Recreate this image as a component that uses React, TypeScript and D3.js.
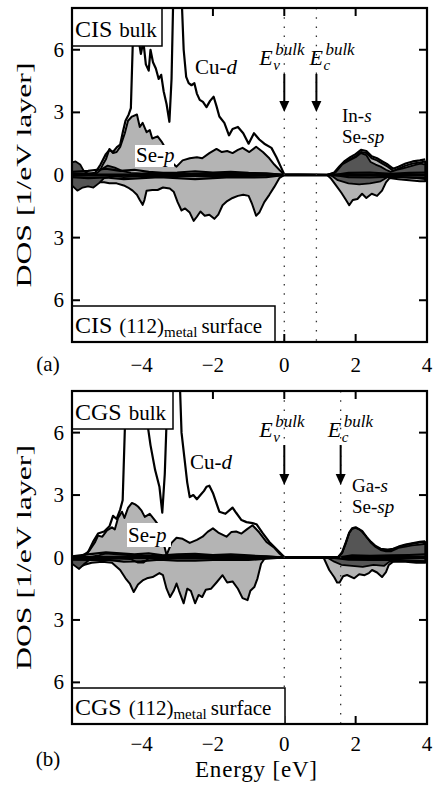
import React from "react";
import * as d3 from "d3";

type Pt = [number, number];

const xTicks = [-4, -2, 0, 2, 4];
const yTicks = [-6, -3, 0, 3, 6];
const xDomain: Pt = [-5.95, 4];
const yDomain: Pt = [-8, 8];

// ---------- Panel (a): CIS ----------
const cisCuD: Pt[] = [[-5.95,0.05],[-5.5,0.05],[-5.3,0.1],[-5.15,0.5],[-5.0,1.0],[-4.9,1.2],[-4.8,1.1],[-4.68,1.35],[-4.6,1.45],[-4.52,2.1],[-4.45,2.6],[-4.36,2.9],[-4.3,3.2],[-4.25,6.1],[-4.2,7.6],[-4.12,6.9],[-4.02,5.8],[-3.95,6.4],[-3.88,5.3],[-3.8,5.0],[-3.75,6.0],[-3.68,5.4],[-3.6,5.1],[-3.52,4.6],[-3.45,4.8],[-3.38,4.0],[-3.3,3.4],[-3.22,2.55],[-3.16,4.6],[-3.1,9.5],[-2.9,9.5],[-2.82,6.0],[-2.75,4.7],[-2.68,4.4],[-2.6,4.3],[-2.52,4.4],[-2.45,3.9],[-2.37,3.6],[-2.28,3.5],[-2.18,3.25],[-2.08,3.55],[-1.98,3.75],[-1.9,3.3],[-1.82,2.8],[-1.68,2.5],[-1.55,1.9],[-1.45,2.2],[-1.3,2.3],[-1.15,2.0],[-1.0,1.5],[-0.85,2.0],[-0.7,1.7],[-0.56,1.5],[-0.36,1.3],[-0.22,0.85],[-0.08,0.33],[0,0.03],[1.2,0],[1.4,0.12],[1.55,0.42],[1.7,0.68],[1.85,0.85],[2.0,1.0],[2.15,1.2],[2.3,1.15],[2.45,0.9],[2.6,0.8],[2.75,0.65],[2.9,0.5],[3.05,0.3],[3.2,0.4],[3.4,0.55],[3.6,0.65],[3.8,0.7],[3.95,0.75]];
const cisSeP: Pt[] = [[-5.95,0.15],[-5.6,0.1],[-5.3,0.05],[-5.2,0.1],[-5.1,0.45],[-5.0,0.75],[-4.9,1.25],[-4.8,1.05],[-4.7,1.1],[-4.6,1.35],[-4.47,2.0],[-4.38,2.6],[-4.27,2.8],[-4.13,2.9],[-4.05,2.3],[-3.97,2.5],[-3.86,2.05],[-3.77,2.15],[-3.7,1.75],[-3.55,1.85],[-3.44,1.6],[-3.3,1.2],[-3.15,0.6],[-3.02,0.4],[-2.85,0.7],[-2.65,0.8],[-2.45,0.85],[-2.3,0.8],[-2.1,1.05],[-1.9,1.25],[-1.75,1.1],[-1.6,1.15],[-1.45,1.05],[-1.3,1.2],[-1.17,1.3],[-0.98,1.1],[-0.79,1.35],[-0.6,1.1],[-0.42,0.8],[-0.28,0.5],[-0.14,0.25],[0,0.02],[1.2,0],[1.4,0.1],[1.55,0.35],[1.7,0.6],[1.85,0.75],[2.0,0.9],[2.15,1.1],[2.3,1.05],[2.45,0.8],[2.6,0.7],[2.75,0.55],[2.9,0.4],[3.05,0.2],[3.2,0.3],[3.4,0.45],[3.6,0.55],[3.8,0.6],[3.95,0.65]];
const cisInS: Pt[] = [[-5.95,0.6],[-5.85,0.65],[-5.72,0.5],[-5.62,0.2],[-5.5,0.05],[-5.3,0.02],[-5.15,0.25],[-4.95,0.45],[-4.75,0.35],[-4.55,0.2],[-4.3,0.1],[-4.0,0.08],[-3.5,0.1],[-3.0,0.05],[-2.0,0.1],[-1.0,0.08],[-0.3,0.05],[0,0],[1.3,0],[1.45,0.15],[1.62,0.5],[1.82,0.7],[2.0,0.85],[2.15,1.05],[2.3,0.95],[2.42,0.62],[2.56,0.5],[2.7,0.4],[2.85,0.25],[2.98,0.15],[3.15,0.25],[3.3,0.3],[3.5,0.4],[3.7,0.5],[3.83,0.55],[3.95,0.5]];
const cisSurfSeP: Pt[] = [[-5.95,0.3],[-5.5,0.3],[-5.2,0.35],[-5.05,0.35],[-4.9,0.4],[-4.7,0.4],[-4.5,0.5],[-4.38,0.6],[-4.25,0.75],[-4.13,0.95],[-4.05,1.2],[-3.97,1.43],[-3.92,1.2],[-3.86,0.75],[-3.7,0.72],[-3.55,0.72],[-3.4,0.6],[-3.21,0.65],[-3.1,0.8],[-2.99,1.3],[-2.88,1.7],[-2.78,1.6],[-2.65,1.8],[-2.54,2.2],[-2.45,2.0],[-2.35,1.75],[-2.23,1.95],[-2.1,1.9],[-1.96,2.1],[-1.85,1.9],[-1.73,1.45],[-1.6,1.25],[-1.45,1.1],[-1.3,1.0],[-1.15,0.95],[-1.0,1.0],[-0.9,1.4],[-0.79,1.95],[-0.7,1.8],[-0.56,1.3],[-0.42,0.95],[-0.28,0.57],[-0.14,0.15],[0,0],[1.2,0],[1.3,0.15],[1.45,0.5],[1.6,0.85],[1.73,1.2],[1.82,1.45],[1.92,1.2],[2.05,1.15],[2.18,0.9],[2.3,1.1],[2.45,0.9],[2.6,1.0],[2.74,0.75],[2.85,0.35],[2.95,0.15],[3.2,0.2],[3.5,0.25],[3.8,0.3],[3.95,0.3]];
const cisSurfDark: Pt[] = [[-5.95,0.5],[-5.8,0.75],[-5.65,0.6],[-5.5,0.55],[-5.35,0.6],[-5.2,0.4],[-5.05,0.15],[-4.8,0.05],[-4.5,0.1],[-4.0,0.05],[-3.0,0.05],[-2.0,0.08],[-1.0,0.05],[0,0],[1.3,0],[1.5,0.25],[1.8,0.4],[2.1,0.45],[2.4,0.4],[2.7,0.3],[2.9,0.1],[3.3,0.1],[3.7,0.15],[3.95,0.2]];
const cisNearUp: Pt[] = [[-5.95,0.15],[-5.5,0.2],[-5.0,0.3],[-4.6,0.2],[-4.2,0.25],[-3.8,0.15],[-3.4,0.1],[-3.0,0.12],[-2.5,0.18],[-2.0,0.12],[-1.5,0.15],[-1.0,0.1],[-0.5,0.08],[0,0],[1.4,0],[1.8,0.1],[2.4,0.12],[3.0,0.05],[3.5,0.1],[3.95,0.12]];
const cisNearDown: Pt[] = [[-5.95,0.1],[-5.5,0.15],[-5.0,0.12],[-4.5,0.2],[-4.0,0.15],[-3.5,0.1],[-3.0,0.15],[-2.5,0.2],[-2.0,0.15],[-1.5,0.1],[-1.0,0.12],[-0.5,0.1],[0,0],[1.4,0],[1.8,0.1],[2.4,0.12],[3.0,0.08],[3.5,0.12],[3.95,0.15]];

// ---------- Panel (b): CGS ----------
const cgsCuD: Pt[] = [[-5.95,0.02],[-5.7,0.05],[-5.5,0.25],[-5.36,0.75],[-5.22,1.15],[-5.05,1.25],[-4.9,1.5],[-4.8,2.0],[-4.7,1.85],[-4.6,2.3],[-4.53,2.75],[-4.47,6.1],[-4.4,8.6],[-4.2,9.5],[-3.95,7.6],[-3.85,6.6],[-3.75,5.4],[-3.62,4.2],[-3.5,3.4],[-3.42,2.15],[-3.35,4.0],[-3.3,6.5],[-3.22,9.5],[-2.95,9.5],[-2.88,6.0],[-2.8,4.8],[-2.72,3.6],[-2.65,2.9],[-2.55,3.0],[-2.45,2.8],[-2.35,3.0],[-2.25,3.2],[-2.18,3.4],[-2.1,3.45],[-2.0,3.1],[-1.9,2.6],[-1.82,2.2],[-1.65,2.1],[-1.45,2.4],[-1.35,2.15],[-1.2,1.8],[-1.06,1.7],[-0.89,1.65],[-0.78,1.6],[-0.61,1.18],[-0.42,0.75],[-0.28,0.5],[-0.14,0.26],[0,0.02],[1.5,0],[1.62,0.25],[1.73,0.75],[1.82,1.2],[1.9,1.4],[2.0,1.45],[2.18,1.28],[2.3,1.0],[2.43,0.75],[2.56,0.55],[2.7,0.42],[2.9,0.38],[3.05,0.42],[3.2,0.52],[3.4,0.62],[3.58,0.68],[3.8,0.75],[3.95,0.78]];
const cgsSeP: Pt[] = [[-5.95,0],[-5.6,0.1],[-5.45,0.36],[-5.3,0.75],[-5.22,1.05],[-5.1,1.0],[-4.97,1.3],[-4.83,1.45],[-4.75,1.35],[-4.66,1.9],[-4.55,2.2],[-4.48,1.9],[-4.38,2.38],[-4.27,2.62],[-4.18,2.55],[-4.1,2.45],[-4.0,2.25],[-3.91,1.95],[-3.77,2.1],[-3.63,1.8],[-3.5,1.5],[-3.4,0.8],[-3.3,0.12],[-3.16,0.7],[-3.02,0.95],[-2.85,0.9],[-2.65,0.7],[-2.45,0.85],[-2.29,1.0],[-2.15,1.23],[-2.0,1.4],[-1.85,1.2],[-1.62,1.0],[-1.48,1.23],[-1.35,1.25],[-1.2,1.15],[-1.05,1.35],[-0.89,1.55],[-0.7,1.2],[-0.5,0.75],[-0.3,0.5],[-0.14,0.2],[0,0.02],[1.5,0],[1.62,0.2],[1.73,0.7],[1.82,1.15],[1.9,1.35],[2.0,1.4],[2.18,1.23],[2.3,0.95],[2.43,0.7],[2.56,0.5],[2.7,0.38],[2.9,0.33],[3.05,0.38],[3.2,0.5],[3.4,0.6],[3.58,0.66],[3.8,0.72],[3.95,0.75]];
const cgsGaS: Pt[] = [[-5.95,0],[-5.5,0.02],[-5.2,0.1],[-5.0,0.2],[-4.7,0.15],[-4.3,0.1],[-3.5,0.08],[-2.5,0.1],[-1.5,0.08],[-0.5,0.05],[0,0],[1.5,0],[1.62,0.2],[1.73,0.7],[1.82,1.18],[1.9,1.37],[2.0,1.42],[2.1,1.35],[2.18,1.23],[2.3,1.0],[2.43,0.7],[2.56,0.5],[2.7,0.36],[2.85,0.3],[3.0,0.3],[3.2,0.46],[3.4,0.52],[3.58,0.58],[3.8,0.62],[3.95,0.66]];
const cgsSurfSeP: Pt[] = [[-5.95,0.2],[-5.73,0.45],[-5.6,0.35],[-5.4,0.25],[-5.1,0.2],[-4.83,0.25],[-4.6,0.6],[-4.45,1.0],[-4.33,1.25],[-4.22,1.66],[-4.1,1.3],[-3.97,1.1],[-3.85,1.0],[-3.69,0.94],[-3.5,0.75],[-3.4,0.85],[-3.3,1.5],[-3.2,1.9],[-3.1,1.6],[-3.02,1.25],[-2.95,1.6],[-2.82,2.2],[-2.72,1.5],[-2.62,1.6],[-2.5,2.2],[-2.4,1.8],[-2.3,1.9],[-2.2,1.55],[-2.05,1.5],[-1.9,1.2],[-1.73,0.85],[-1.6,1.2],[-1.45,1.15],[-1.3,1.5],[-1.17,1.95],[-1.03,2.05],[-0.95,1.6],[-0.84,1.42],[-0.75,1.0],[-0.65,0.3],[-0.55,0.05],[-0.45,0],[1.1,0],[1.26,0.6],[1.4,0.95],[1.48,1.2],[1.55,1.2],[1.65,0.9],[1.76,0.84],[1.96,1.0],[2.1,0.8],[2.25,0.85],[2.37,0.75],[2.46,0.6],[2.6,0.72],[2.74,0.94],[2.85,0.7],[2.93,0.36],[3.05,0.2],[3.4,0.2],[3.7,0.25],[3.95,0.25]];
const cgsSurfDark: Pt[] = [[-5.95,0.3],[-5.75,0.55],[-5.6,0.3],[-5.45,0.1],[-5.0,0.05],[-4.3,0.08],[-4.1,0.25],[-3.95,0.25],[-3.8,0.05],[-3.0,0.05],[-2.0,0.05],[-1.0,0.05],[-0.5,0],[1.2,0],[1.4,0.2],[1.6,0.35],[1.9,0.4],[2.2,0.45],[2.5,0.35],[2.8,0.4],[2.95,0.2],[3.3,0.15],[3.7,0.2],[3.95,0.2]];
const cgsNearUp: Pt[] = [[-5.95,0.05],[-5.5,0.15],[-5.0,0.25],[-4.6,0.2],[-4.2,0.15],[-3.8,0.2],[-3.4,0.1],[-3.0,0.15],[-2.5,0.18],[-2.0,0.12],[-1.5,0.15],[-1.0,0.1],[-0.5,0.05],[0,0],[1.5,0],[1.9,0.1],[2.4,0.08],[3.0,0.1],[3.5,0.12],[3.95,0.15]];
const cgsNearDown: Pt[] = [[-5.95,0.1],[-5.5,0.12],[-5.0,0.1],[-4.5,0.2],[-4.0,0.18],[-3.5,0.1],[-3.0,0.15],[-2.5,0.15],[-2.0,0.12],[-1.5,0.1],[-1.0,0.12],[-0.5,0.05],[0,0],[1.3,0],[1.8,0.1],[2.4,0.12],[3.0,0.1],[3.5,0.15],[3.95,0.18]];

const LIGHT = "#b4b4b4";
const DARK = "#555555";
const FONT = "'Liberation Serif', 'Times New Roman', serif";

interface PanelCfg {
  top: number; bottom: number; mat: string; tag: string;
  ec: number; cuD: Pt[]; seP: Pt[]; cbS: Pt[]; surfSeP: Pt[]; surfDark: Pt[];
  nearUp: Pt[]; nearDown: Pt[]; cationS: string;
  bulkW: number; surfW: number; eLab: number; arrowTop: number; arrowTip: number;
  ecDx: number; cuLab: Pt; seLab: [number, number, number, number]; sLab: Pt; tagY: number; tickY: number;
}

const panels: PanelCfg[] = [
  { top: 8, bottom: 342, mat: "CIS", tag: "(a)", ec: 0.9, cuD: cisCuD, seP: cisSeP, cbS: cisInS,
    surfSeP: cisSurfSeP, surfDark: cisSurfDark, nearUp: cisNearUp, nearDown: cisNearDown, cationS: "In",
    bulkW: 90, surfW: 203, eLab: 57, arrowTop: 66, arrowTip: 104, ecDx: -7,
    cuLab: [195, 74], seLab: [135, 145, 39, 22], sLab: [342, 122], tagY: 371, tickY: 372 },
  { top: 391, bottom: 724, mat: "CGS", tag: "(b)", ec: 1.58, cuD: cgsCuD, seP: cgsSeP, cbS: cgsGaS,
    surfSeP: cgsSurfSeP, surfDark: cgsSurfDark, nearUp: cgsNearUp, nearDown: cgsNearDown, cationS: "Ga",
    bulkW: 101, surfW: 213, eLab: 46, arrowTop: 54, arrowTip: 94, ecDx: -13,
    cuLab: [190, 469], seLab: [127, 523, 44, 24], sLab: [352, 492], tagY: 766, tickY: 751 },
];

const X0 = 72, X1 = 427;

function Panel({ p, idx }: { p: PanelCfg; idx: number }) {
  const x = d3.scaleLinear().domain(xDomain).range([X0, X1]);
  const y = d3.scaleLinear().domain(yDomain).range([p.bottom, p.top]);
  const up = d3.area<Pt>().x(d => x(d[0])).y0(y(0)).y1(d => y(d[1]));
  const dn = d3.area<Pt>().x(d => x(d[0])).y0(y(0)).y1(d => y(-d[1]));
  const lineUp = d3.line<Pt>().x(d => x(d[0])).y(d => y(d[1]));
  const lineDn = d3.line<Pt>().x(d => x(d[0])).y(d => y(-d[1]));
  const clipId = `clip${idx}`;
  const ev = x(0), ecx = x(p.ec);
  const mid = y(0);
  const arrow = (xa: number) => (
    <g>
      <line x1={xa} x2={xa} y1={p.top + p.arrowTop} y2={p.top + p.arrowTip - 8} stroke="#000" strokeWidth={2} />
      <polygon points={`${xa - 5},${p.top + p.arrowTip - 11} ${xa + 5},${p.top + p.arrowTip - 11} ${xa},${p.top + p.arrowTip}`} fill="#000" />
    </g>
  );
  const eLabel = (xs: number, sub: string) => (
    <g fontFamily={FONT} fontStyle="italic">
      <text x={xs} y={p.top + p.eLab} fontSize={22}>E</text>
      <text x={xs + 14} y={p.top + p.eLab + 5} fontSize={15}>{sub}</text>
      <text x={xs + 16} y={p.top + p.eLab - 10} fontSize={17}>bulk</text>
    </g>
  );
  return (
    <g>
      <defs>
        <clipPath id={clipId}><rect x={X0} y={p.top} width={X1 - X0} height={p.bottom - p.top} /></clipPath>
      </defs>
      <g clipPath={`url(#${clipId})`}>
        <path d={up(p.seP) || ""} fill={LIGHT} stroke="#000" strokeWidth={2} strokeLinejoin="round" />
        <path d={dn(p.surfSeP) || ""} fill={LIGHT} stroke="#000" strokeWidth={2} strokeLinejoin="round" />
        <path d={up(p.cbS) || ""} fill={DARK} stroke="#000" strokeWidth={1.8} strokeLinejoin="round" />
        <path d={dn(p.surfDark) || ""} fill={DARK} stroke="#000" strokeWidth={1.8} strokeLinejoin="round" />
        <path d={lineUp(p.cuD) || ""} fill="none" stroke="#000" strokeWidth={2.2} strokeLinejoin="round" />
        <path d={lineUp(p.nearUp) || ""} fill="none" stroke="#000" strokeWidth={2.2} />
        <path d={lineDn(p.nearDown) || ""} fill="none" stroke="#000" strokeWidth={2.2} />
        <line x1={X0} x2={X1} y1={mid} y2={mid} stroke="#000" strokeWidth={3} />
        <line x1={ev} x2={ev} y1={p.top} y2={p.bottom} stroke="#333" strokeWidth={1.3} strokeDasharray="1.5 7.7" />
        <line x1={ecx} x2={ecx} y1={p.top} y2={p.bottom} stroke="#333" strokeWidth={1.3} strokeDasharray="1.5 7.7" />
      </g>
      {arrow(ev)}
      {arrow(ecx)}
      {eLabel(ev - 25, "v")}
      {eLabel(ecx + p.ecDx, "c")}
      <text x={p.cuLab[0]} y={p.cuLab[1]} fontFamily={FONT} fontSize={21}>Cu-<tspan fontStyle="italic">d</tspan></text>
      <rect x={p.seLab[0]} y={p.seLab[1]} width={p.seLab[2]} height={p.seLab[3]} fill="#fff" />
      <text x={p.seLab[0] + 1} y={p.seLab[1] + p.seLab[3] - 5} fontFamily={FONT} fontSize={21}>Se-<tspan fontStyle="italic">p</tspan></text>
      <text x={p.sLab[0]} y={p.sLab[1]} fontFamily={FONT} fontSize={19}>{p.cationS}-<tspan fontStyle="italic">s</tspan></text>
      <text x={p.sLab[0]} y={p.sLab[1] + 21} fontFamily={FONT} fontSize={19}>Se-<tspan fontStyle="italic">sp</tspan></text>
      {xTicks.map(t => (
        <g key={"xt" + t}>
          <line x1={x(t)} x2={x(t)} y1={p.bottom} y2={p.bottom - 8} stroke="#000" strokeWidth={2} />
          <line x1={x(t)} x2={x(t)} y1={p.top} y2={p.top + 8} stroke="#000" strokeWidth={2} />
          <text x={x(t)} y={p.tickY} textAnchor="middle" fontFamily={FONT} fontSize={21}>{t < 0 ? "\u2212" + Math.abs(t) : String(t)}</text>
        </g>
      ))}
      {yTicks.map(t => (
        <g key={"yt" + t}>
          <line x1={X0} x2={X0 + 8} y1={y(t)} y2={y(t)} stroke="#000" strokeWidth={2} />
          <line x1={X1} x2={X1 - 8} y1={y(t)} y2={y(t)} stroke="#000" strokeWidth={2} />
          <text x={64} y={y(t) + 7} textAnchor="end" fontFamily={FONT} fontSize={21}>{Math.abs(t)}</text>
        </g>
      ))}
      <rect x={X0} y={p.top} width={p.bulkW} height={38} fill="#fff" stroke="#000" strokeWidth={1.5} />
      <text x={X0 + 3} y={p.top + 29} fontFamily={FONT} fontSize={24}>{p.mat}<tspan fontSize={21} dx={7}>bulk</tspan></text>
      <rect x={X0} y={p.bottom - 36} width={p.surfW} height={36} fill="#fff" stroke="#000" strokeWidth={1.5} />
      <text x={X0 + 3} y={p.bottom - 9} fontFamily={FONT} fontSize={24}>{p.mat}<tspan fontSize={21} dx={7}>(112)</tspan><tspan fontSize={15} dy={4}>metal</tspan><tspan fontSize={21} dy={-4} dx={4}>surface</tspan></text>
      <rect x={X0} y={p.top} width={X1 - X0} height={p.bottom - p.top} fill="none" stroke="#000" strokeWidth={2.2} />
      <text transform={`translate(31,${mid}) rotate(-90)`} textAnchor="middle" fontFamily={FONT} fontSize={21}
        textLength={225} lengthAdjust="spacingAndGlyphs">DOS [1/eV layer]</text>
      <text x={48} y={p.tagY} textAnchor="middle" fontFamily={FONT} fontSize={21}>{p.tag}</text>
    </g>
  );
}

export default function App() {
  return (
    <svg width={437} height={785} style={{ position: "absolute", left: 0, top: 0, background: "#fff" }}>
      <rect width={437} height={785} fill="#fff" />
      {panels.map((p, i) => <Panel key={i} p={p} idx={i} />)}
      <text x={256} y={777} textAnchor="middle" fontFamily={FONT} fontSize={23} textLength={122}>Energy [eV]</text>
    </svg>
  );
}
